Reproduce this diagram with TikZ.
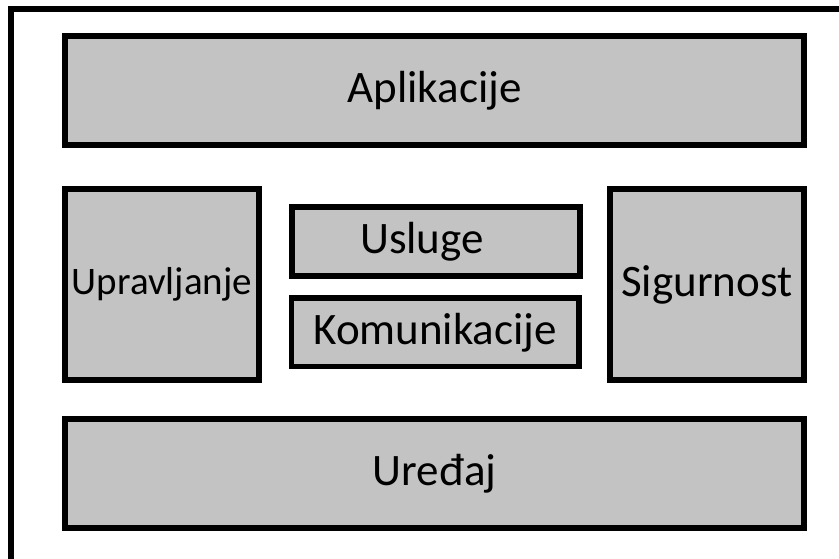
\documentclass[tikz,border=0pt]{standalone}
\usepackage{fontspec}
\setmainfont{Carlito}
\usepackage{tikz}
\usetikzlibrary{positioning}

\begin{document}
\begin{tikzpicture}[x=1pt,y=-1pt]
\tikzstyle{sloj} = [draw=black, line width=5.5pt, fill=sivo, rectangle, inner sep=0pt, font=\fontsize{45}{52}\selectfont]
\tikzstyle{stub} = [sloj, minimum width=194pt, minimum height=191pt]
\tikzstyle{traka} = [sloj, minimum width=288pt, minimum height=69pt]
\definecolor{sivo}{RGB}{195,195,195}
\useasboundingbox (0,0) rectangle (839,559);
\draw[line width=5.5pt] (11,565) -- (11,9) -- (845,9);
\node[sloj, minimum width=739pt, minimum height=109pt] (aplikacije) at (434.5,90.5) {Aplikacije};
\node[stub, font=\fontsize{39}{46}\selectfont] (upravljanje) at (162,284.5) {Upravljanje};
\node[traka] (usluge) at (436,241.5) {Usluge\hspace*{28pt}};
\node[traka, minimum width=287.5pt, minimum height=68.5pt] (komunikacije) at (435.25,332.25) {Komunikacije};
\node[stub] (sigurnost) at (706.75,284.5) {Sigurnost};
\node[sloj, minimum width=739pt, minimum height=109pt] (uredaj) at (434.5,473.5) {Uređaj};
\end{tikzpicture}
\end{document}
